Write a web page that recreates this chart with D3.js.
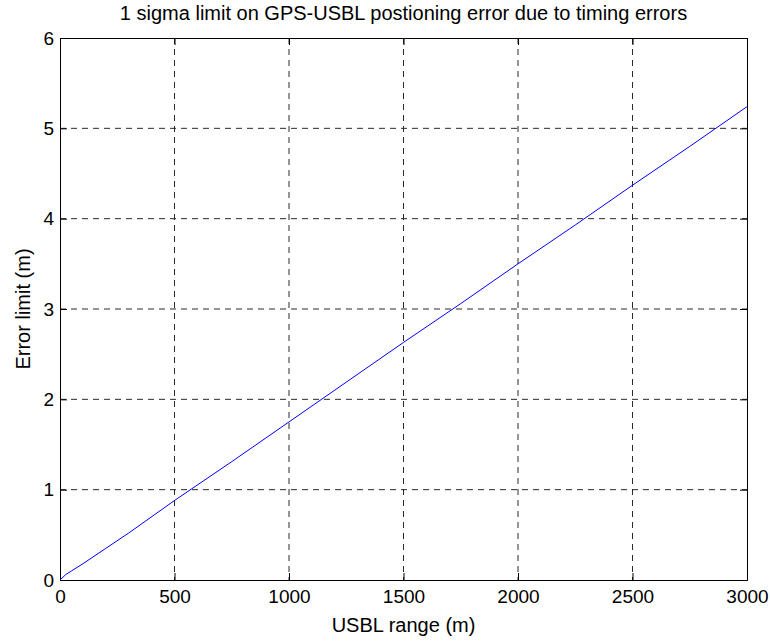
<!DOCTYPE html>
<html>
<head>
<meta charset="utf-8">
<script src="https://cdn.jsdelivr.net/npm/d3@7"></script>
<style>
  body { margin: 0; background: #fff; }
  svg { display: block; font-family: "Liberation Sans", Arial, sans-serif; }
</style>
</head>
<body>
<div id="chart"></div>
<script>
// values
const rangeM = [0, 25, 50, 100, 200, 300, 500, 750, 1000, 1250, 1500, 1750, 2000, 2250, 2500, 2750, 3000];
const errorM = [0, 0.06, 0.1, 0.18, 0.35, 0.52, 0.88, 1.31, 1.75, 2.19, 2.63, 3.06, 3.5, 3.93, 4.37, 4.8, 5.24];
const xTicks = [0, 500, 1000, 1500, 2000, 2500, 3000];
const yTicks = [0, 1, 2, 3, 4, 5, 6];

const width = 770, height = 641;
const margin = { top: 38, right: 23, bottom: 61, left: 60 };
const innerW = width - margin.left - margin.right;
const innerH = height - margin.top - margin.bottom;
const tickLen = 7;
const fontSize = "19px";
const labelSize = "20px";

const svg = d3.select("#chart").append("svg")
  .attr("width", width)
  .attr("height", height);

const g = svg.append("g")
  .attr("transform", `translate(${margin.left},${margin.top})`);

const x = d3.scaleLinear().domain([0, 3000]).range([0, innerW]);
const y = d3.scaleLinear().domain([0, 6]).range([innerH, 0]);

// dashed grid
g.selectAll(".gx").data(xTicks.slice(1, -1)).enter().append("line")
  .attr("x1", d => x(d)).attr("x2", d => x(d))
  .attr("y1", 0).attr("y2", innerH)
  .attr("stroke", "#2a2a2a").attr("stroke-width", 1)
  .attr("stroke-dasharray", "6,5");

g.selectAll(".gy").data(yTicks.slice(1, -1)).enter().append("line")
  .attr("y1", d => y(d)).attr("y2", d => y(d))
  .attr("x1", 0).attr("x2", innerW)
  .attr("stroke", "#2a2a2a").attr("stroke-width", 1)
  .attr("stroke-dasharray", "6,5");

// axes, ticks pointing inward, box around the plot
const xAxisB = d3.axisBottom(x).tickValues(xTicks).tickSize(-tickLen).tickPadding(10).tickFormat(d3.format("d"));
const xAxisT = d3.axisTop(x).tickValues(xTicks).tickSize(-tickLen).tickFormat("");
const yAxisL = d3.axisLeft(y).tickValues(yTicks).tickSize(-tickLen).tickPadding(6).tickFormat(d3.format("d"));
const yAxisR = d3.axisRight(y).tickValues(yTicks).tickSize(-tickLen).tickFormat("");

function styleAxis(sel) {
  sel.select(".domain").attr("stroke", "#000").attr("stroke-width", 1);
  sel.selectAll(".tick line").attr("stroke", "#000");
  sel.selectAll(".tick text").attr("fill", "#000").style("font-size", fontSize);
}

g.append("g").attr("transform", `translate(0,${innerH})`).call(xAxisB).call(styleAxis);
g.append("g").call(xAxisT).call(styleAxis);
g.append("g").call(yAxisL).call(styleAxis);
g.append("g").attr("transform", `translate(${innerW},0)`).call(yAxisR).call(styleAxis);

// data line
const line = d3.line()
  .x((d, i) => x(rangeM[i]))
  .y(d => y(d));

g.append("path")
  .datum(errorM)
  .attr("fill", "none")
  .attr("stroke", "#0000ff")
  .attr("stroke-width", 1)
  .attr("d", line);

// title and labels
svg.append("text")
  .attr("x", margin.left + innerW / 2)
  .attr("y", 20)
  .attr("text-anchor", "middle")
  .style("font-size", labelSize)
  .text("1 sigma limit on GPS-USBL postioning error due to timing errors");

svg.append("text")
  .attr("x", margin.left + innerW / 2)
  .attr("y", 632)
  .attr("text-anchor", "middle")
  .style("font-size", labelSize)
  .text("USBL range (m)");

svg.append("text")
  .attr("transform", `translate(30,${margin.top + innerH / 2}) rotate(-90)`)
  .attr("text-anchor", "middle")
  .style("font-size", labelSize)
  .text("Error limit (m)");
</script>
</body>
</html>
